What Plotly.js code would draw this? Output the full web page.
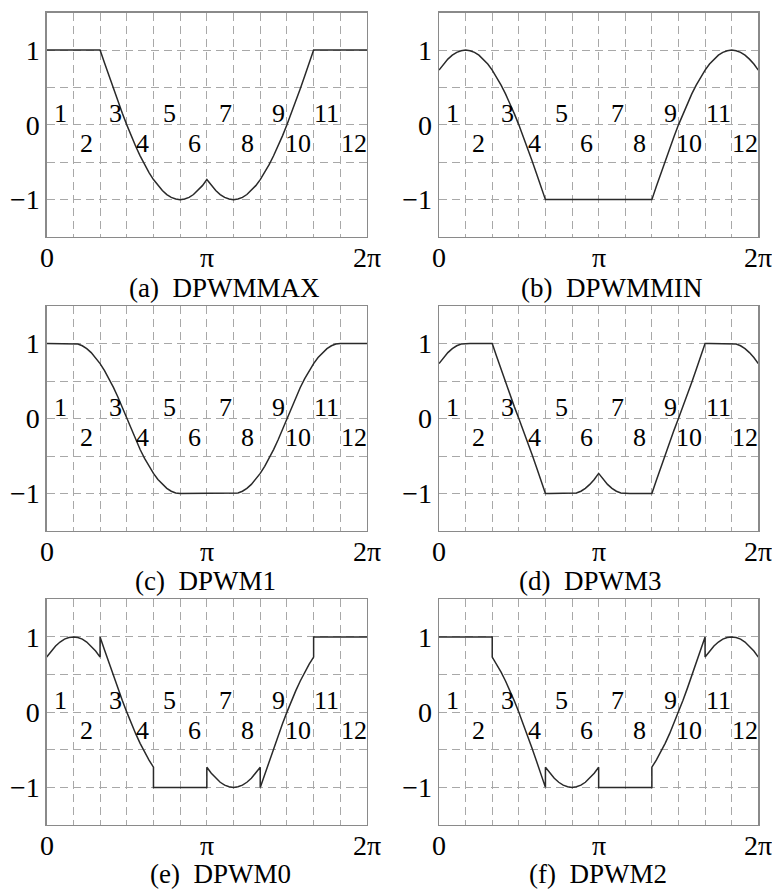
<!DOCTYPE html>
<html>
<head>
<meta charset="utf-8">
<script src="https://cdn.plot.ly/plotly-3.0.1.min.js"></script>
<style>html,body{margin:0;padding:0;background:#fff;}#chart{width:772px;height:889px;}</style>
</head>
<body>
<div id="chart"></div>
<script>
// ---- data (angle in degrees, 0..360 = 0..2π) ----
const theta = [0,5,10,15,20,25,30,35,40,45,50,55,60,65,70,75,80,85,90,95,100,105,110,115,120,125,130,135,140,145,150,155,160,165,170,175,180,185,190,195,200,205,210,215,220,225,230,235,240,245,250,255,260,265,270,275,280,285,290,295,300,305,310,315,320,325,330,335,340,345,350,355,360];

const yDPWMMAX = [1,1,1,1,1,1,1,1,1,1,1,1,1,
  0.826,0.653,0.482,0.316,0.155,0,-0.147,-0.286,-0.414,-0.532,-0.638,-0.732,-0.813,-0.879,-0.932,-0.970,-0.992,-1,-0.992,-0.970,-0.932,-0.879,-0.813,-0.732,
  -0.813,-0.879,-0.932,-0.970,-0.992,-1,-0.992,-0.970,-0.932,-0.879,-0.813,-0.732,-0.638,-0.532,-0.414,-0.286,-0.147,0,0.155,0.316,0.482,0.653,0.826,1,
  1,1,1,1,1,1,1,1,1,1,1,1];

const yDPWMMIN = [0.732,0.813,0.879,0.932,0.970,0.992,1,0.992,0.970,0.932,0.879,0.813,0.732,0.638,0.532,0.414,0.286,0.147,0,-0.155,-0.316,-0.482,-0.653,-0.826,-1,
  -1,-1,-1,-1,-1,-1,-1,-1,-1,-1,-1,-1,-1,-1,-1,-1,-1,-1,-1,-1,-1,-1,-1,
  -1,-0.826,-0.653,-0.482,-0.316,-0.155,0,0.147,0.286,0.414,0.532,0.638,0.732,0.813,0.879,0.932,0.970,0.992,1,0.992,0.970,0.932,0.879,0.813,0.732];

const yDPWM1 = [1,1,1,1,1,1,1,
  0.992,0.970,0.932,0.879,0.813,0.732,0.638,0.532,0.414,0.286,0.147,0,
  -0.147,-0.286,-0.414,-0.532,-0.638,-0.732,-0.813,-0.879,-0.932,-0.970,-0.992,-1,
  -1,-1,-1,-1,-1,-1,-1,-1,-1,-1,-1,-1,
  -0.992,-0.970,-0.932,-0.879,-0.813,-0.732,-0.638,-0.532,-0.414,-0.286,-0.147,0,
  0.147,0.286,0.414,0.532,0.638,0.732,0.813,0.879,0.932,0.970,0.992,1,
  1,1,1,1,1,1];

const yDPWM3 = [0.732,0.813,0.879,0.932,0.970,0.992,1,
  1,1,1,1,1,1,
  0.826,0.653,0.482,0.316,0.155,0,
  -0.155,-0.316,-0.482,-0.653,-0.826,-1,
  -1,-1,-1,-1,-1,-1,
  -0.992,-0.970,-0.932,-0.879,-0.813,-0.732,
  -0.813,-0.879,-0.932,-0.970,-0.992,-1,
  -1,-1,-1,-1,-1,-1,
  -0.826,-0.653,-0.482,-0.316,-0.155,0,
  0.155,0.316,0.482,0.653,0.826,1,
  1,1,1,1,1,1,
  0.992,0.970,0.932,0.879,0.813,0.732];

const xDPWM0 = [0,5,10,15,20,25,30,35,40,45,50,55,60,
  60,65,70,75,80,85,90,95,100,105,110,115,120,
  120,180,
  180,185,190,195,200,205,210,215,220,225,230,235,240,
  240,245,250,255,260,265,270,275,280,285,290,295,300,
  300,360];
const yDPWM0 = [0.732,0.813,0.879,0.932,0.970,0.992,1,0.992,0.970,0.932,0.879,0.813,0.732,
  1,0.826,0.653,0.482,0.316,0.155,0,-0.147,-0.286,-0.414,-0.532,-0.638,-0.732,
  -1,-1,
  -0.732,-0.813,-0.879,-0.932,-0.970,-0.992,-1,-0.992,-0.970,-0.932,-0.879,-0.813,-0.732,
  -1,-0.826,-0.653,-0.482,-0.316,-0.155,0,0.147,0.286,0.414,0.532,0.638,0.732,
  1,1];

const xDPWM2 = [0,60,
  60,65,70,75,80,85,90,95,100,105,110,115,120,
  120,125,130,135,140,145,150,155,160,165,170,175,180,
  180,240,
  240,245,250,255,260,265,270,275,280,285,290,295,300,
  300,305,310,315,320,325,330,335,340,345,350,355,360];
const yDPWM2 = [1,1,
  0.732,0.638,0.532,0.414,0.286,0.147,0,-0.155,-0.316,-0.482,-0.653,-0.826,-1,
  -0.732,-0.813,-0.879,-0.932,-0.970,-0.992,-1,-0.992,-0.970,-0.932,-0.879,-0.813,-0.732,
  -1,-1,
  -0.732,-0.638,-0.532,-0.414,-0.286,-0.147,0,0.155,0.316,0.482,0.653,0.826,1,
  0.732,0.813,0.879,0.932,0.970,0.992,1,0.992,0.970,0.932,0.879,0.813,0.732];

// axis grid / tick labels
const xGridVals = [0,30,60,90,120,150,180,210,240,270,300,330,360];
const xLabelVals = [0,180,360];
const xLabelText = ['0','π','2π'];
const yGridVals = [-1,-0.5,0,0.5,1];
const yGridText = ['\u22121','','0','','1'];

// sector numbers
const sectorNames = ['1','2','3','4','5','6','7','8','9','10','11','12'];
const sectorX = [15,45,77,108,138,166,201,226,261,282,315,345];
const sectorY = [0.15,-0.25,0.15,-0.25,0.15,-0.25,0.15,-0.25,0.15,-0.25,0.15,-0.25];

const captions = ['(a)  DPWMMAX','(b)  DPWMMIN','(c)  DPWM1','(d)  DPWM3','(e)  DPWM0','(f)  DPWM2'];
const seriesX = [theta, theta, theta, theta, xDPWM0, xDPWM2];
const seriesY = [yDPWMMAX, yDPWMMIN, yDPWM1, yDPWM3, yDPWM0, yDPWM2];

// ---- layout geometry (pixels) ----
const W = 772, H = 889;
const colL = [[46.7, 367], [439, 758.3]];
const rowT = [[12.7, 237], [306, 531], [599.3, 825]];
const capX = [225, 612, 205, 590, 220, 598];
const capY = [288, 581, 874];

const FONT = '"Liberation Serif", "Times New Roman", serif';
const traces = [];
const layout = {
  width: W, height: H,
  margin: {l: 0, r: 0, t: 0, b: 0},
  paper_bgcolor: '#fff', plot_bgcolor: '#fff',
  showlegend: false,
  font: {family: FONT, size: 26, color: '#000'},
  annotations: []
};

for (let i = 0; i < 6; i++) {
  const r = Math.floor(i / 2), c = i % 2;
  const n = i + 1;
  const xa = 'xaxis' + (n === 1 ? '' : n), ya = 'yaxis' + (n === 1 ? '' : n);
  const xr = 'x' + (n === 1 ? '' : n), yr = 'y' + (n === 1 ? '' : n);
  traces.push({
    x: seriesX[i], y: seriesY[i], xaxis: xr, yaxis: yr,
    type: 'scatter', mode: 'lines',
    line: {color: '#2a2a2a', width: 1.5}, hoverinfo: 'skip'
  });
  layout[xa] = {
    domain: [colL[c][0] / W, colL[c][1] / W],
    anchor: yr, range: [0, 360], fixedrange: true,
    tickmode: 'array', tickvals: xGridVals, showticklabels: false,
    showgrid: true, gridcolor: '#a8a8a8', gridwidth: 1, griddash: '8px,5px',
    zeroline: false, showline: true, mirror: true, linecolor: '#8a8a8a', linewidth: 1.3,
    ticks: ''
  };
  layout[ya] = {
    domain: [1 - rowT[r][1] / H, 1 - rowT[r][0] / H],
    anchor: xr, range: [-1.5, 1.5], fixedrange: true,
    tickmode: 'array', tickvals: yGridVals, ticktext: yGridText,
    showgrid: true, gridcolor: '#a8a8a8', gridwidth: 1, griddash: '8px,5px',
    zeroline: false, showline: true, mirror: true, linecolor: '#8a8a8a', linewidth: 1.3,
    ticks: '', tickfont: {family: FONT, size: 28, color: '#000'}, ticklabelstandoff: 0
  };
  for (let k = 0; k < xLabelVals.length; k++) {
    layout.annotations.push({
      x: xLabelVals[k], y: -1.5, xref: xr, yref: yr,
      text: xLabelText[k], showarrow: false,
      xanchor: 'center', yanchor: 'middle', yshift: -20,
      font: {family: FONT, size: 28, color: '#000'}
    });
  }
  for (let k = 0; k < sectorNames.length; k++) {
    layout.annotations.push({
      x: sectorX[k], y: sectorY[k], xref: xr, yref: yr,
      text: sectorNames[k], showarrow: false,
      xanchor: 'center', yanchor: 'middle',
      font: {family: FONT, size: 26, color: '#000'}
    });
  }
  layout.annotations.push({
    x: capX[i] / W, y: 1 - capY[r] / H, xref: 'paper', yref: 'paper',
    text: captions[i], showarrow: false, xanchor: 'center', yanchor: 'middle',
    font: {family: FONT, size: 27, color: '#000'}
  });
}

Plotly.newPlot('chart', traces, layout, {staticPlot: true, displayModeBar: false});
</script>
</body>
</html>
